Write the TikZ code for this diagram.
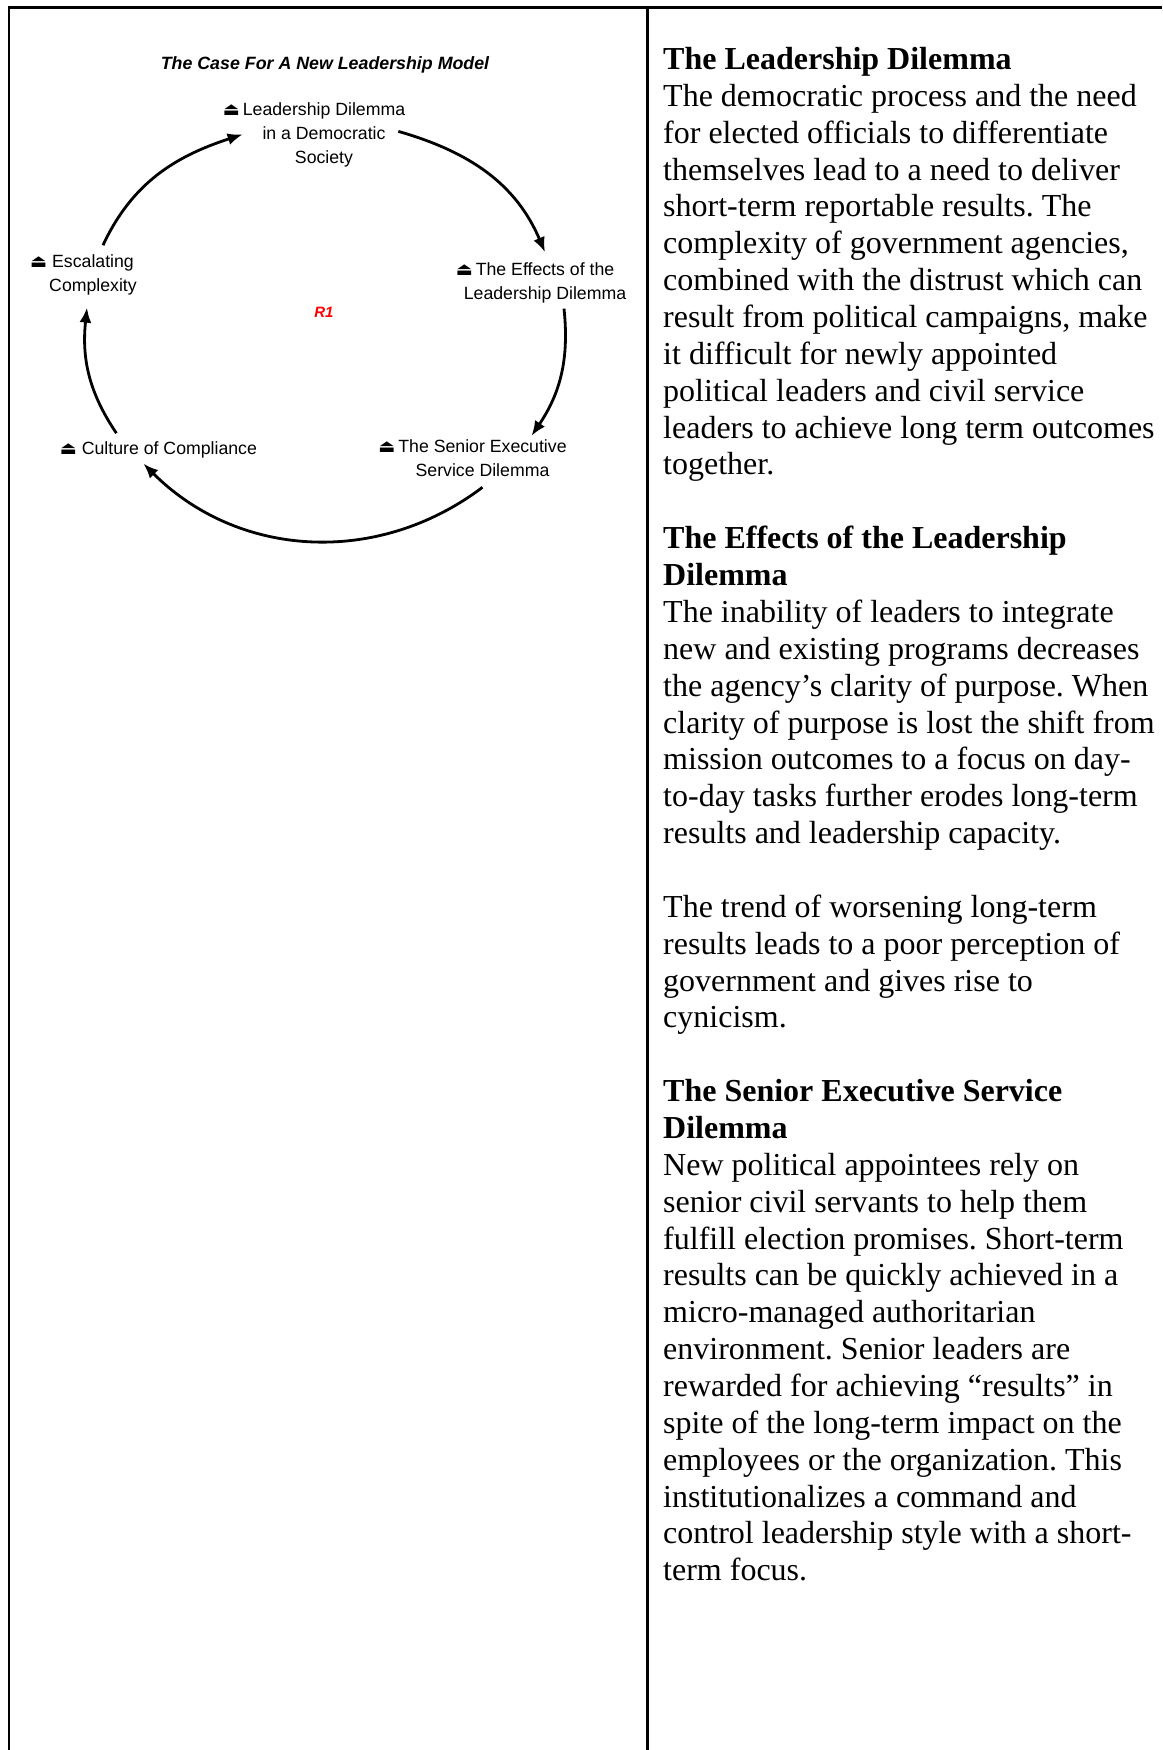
\documentclass[tikz,border=0pt]{standalone}
\usepackage{fontspec}
\setmainfont{Liberation Serif}[Ligatures=CommonOff]
\newfontfamily\arialfont{Liberation Sans}
\newfontfamily\symfont{DejaVu Sans}
\usetikzlibrary{arrows}
\usepgflibrary{arrows.meta}
\newcommand{\ejt}{{\symfont\fontsize{18}{18}\selectfont ⏏}}
\newcommand{\bodyfont}{\frenchspacing\fontsize{32}{36.86}\selectfont}
\newcommand{\varfont}{\arialfont\fontsize{17.7}{24}\selectfont}

\begin{document}
\begin{tikzpicture}[x=1pt,y=1pt,
        var/.style={font=\varfont,align=center,inner sep=0pt,anchor=north},
        note/.style={font=\bodyfont,align=left,inner sep=0pt,anchor=north west},
        flow/.style={line width=2.8pt,-{Latex[length=15pt,width=12pt]}}]
        %边界;
        \useasboundingbox (0,0) rectangle (1162,-1750);
        %表格线
        \draw [line width=2.5pt] (9,-1750) -- (9,-7.5) -- (1162,-7.5);
        \draw [line width=2.5pt] (647.5,-7.5) -- (647.5,-1750);
        %标题
        \node [font=\arialfont\bfseries\itshape\fontsize{17.8}{20}\selectfont,anchor=base] (title) at (325,-70) {The Case For A New Leadership Model};
        %变量
        \node [var] (lead) at (324,-98.2) {\strut\llap{\ejt\,}Leadership Dilemma\\in a Democratic\\Society\strut};
        \node [var] (eff) at (545,-258.2) {\strut\llap{\ejt\,}The Effects of the\\Leadership Dilemma\strut};
        \node [var] (sen) at (482.5,-435.9) {\strut\llap{\ejt\,}The Senior Executive\\Service Dilemma\strut};
        \node [var] (cul) at (169.4,-437.2) {\strut\llap{\ejt\ }Culture of Compliance\strut};
        \node [var] (esc) at (93,-250.2) {\strut\llap{\ejt\ }Escalating\\Complexity\strut};
        \node [font=\arialfont\bfseries\itshape\fontsize{15}{18}\selectfont,text=red,anchor=base] (loop) at (324,-317) {R1};
        %回路
        \draw [flow] ([xshift=10pt,yshift=5pt]esc.north) to [out=65,in=198] (lead.west);
        \draw [flow] ([xshift=-7pt,yshift=3pt]lead.east) to [out=-16,in=113] ([yshift=6pt]eff.north);
        \draw [flow] ([xshift=19pt,yshift=-2pt]eff.south) to [out=-84,in=56] ([xshift=49pt]sen.north);
        \draw [flow] ([yshift=-3pt]sen.south) to [out=217,in=-45] ([xshift=-26pt,yshift=-2pt]cul.south);
        \draw [flow] ([xshift=-53pt,yshift=4pt]cul.north) to [out=124,in=264] ([xshift=-6pt,yshift=-9pt]esc.south);
        %说明文字
        \node [note] (lead-txt) at (663,-43.5) {\strut\textbf{The Leadership Dilemma}\\
            The democratic process and the need\\
            for elected officials to differentiate\\
            themselves lead to a need to deliver\\
            short-term reportable results. The\\
            complexity of government agencies,\\
            combined with the distrust which can\\
            result from political campaigns, make\\
            it difficult for newly appointed\\
            political leaders and civil service\\
            leaders to achieve long term outcomes\\
            together.};
        \node [note] (eff-txt) at (663,-522.7) {\strut\textbf{The Effects of the Leadership}\\
            \textbf{Dilemma}\\
            The inability of leaders to integrate\\
            new and existing programs decreases\\
            the agency’s clarity of purpose. When\\
            clarity of purpose is lost the shift from\\
            mission outcomes to a focus on day-\\
            to-day tasks further erodes long-term\\
            results and leadership capacity.};
        \node [note] (trend-txt) at (663,-891.3) {\strut The trend of worsening long-term\\
            results leads to a poor perception of\\
            government and gives rise to\\
            cynicism.};
        \node [note] (sen-txt) at (663,-1075.6) {\strut\textbf{The Senior Executive Service}\\
            \textbf{Dilemma}\\
            New political appointees rely on\\
            senior civil servants to help them\\
            fulfill election promises. Short-term\\
            results can be quickly achieved in a\\
            micro-managed authoritarian\\
            environment. Senior leaders are\\
            rewarded for achieving “results” in\\
            spite of the long-term impact on the\\
            employees or the organization. This\\
            institutionalizes a command and\\
            control leadership style with a short-\\
            term focus.};
    \end{tikzpicture}
\end{document}
